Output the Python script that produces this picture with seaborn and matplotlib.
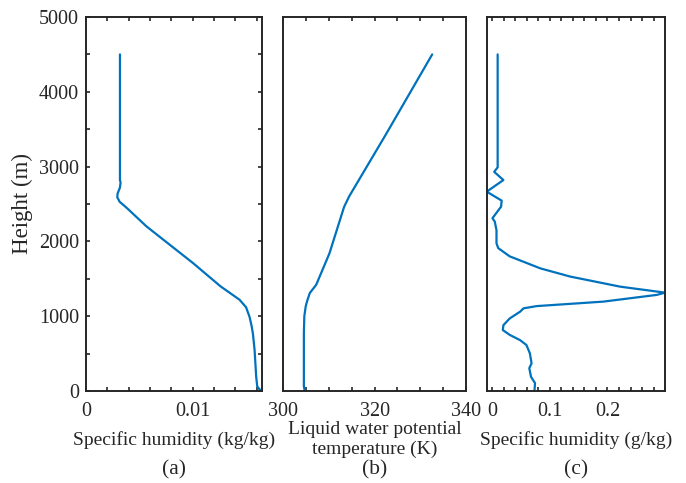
import seaborn as sns
import matplotlib.pyplot as plt
import pandas as pd
import numpy as np
from matplotlib.ticker import MultipleLocator

# profile (a): specific humidity (kg/kg) vs height (m)
a_height = [4500, 2820, 2790, 2720, 2640, 2590, 2530, 2450, 2200, 1710, 1400, 1220,
            1120, 990, 870, 770, 550, 190, 60, 0]
a_q = [0.00318, 0.00318, 0.00324, 0.00318, 0.00296, 0.00293, 0.00315, 0.00380, 0.00567,
       0.01003, 0.01260, 0.01439, 0.01500, 0.01533, 0.01552, 0.01564, 0.0158, 0.01595,
       0.01605, 0.0164]

# profile (b): liquid water potential temperature (K)
b_height = [4500, 3445, 2600, 2460, 1840, 1420, 1310, 1200, 1130, 1000, 770, 60, 0]
b_theta = [332.6, 322.6, 314.4, 313.3, 310.1, 307.2, 305.8, 305.2, 304.9, 304.6, 304.5,
           304.5, 304.7]

# profile (c): specific humidity (g/kg)
c_height = [4500, 3040, 2990, 2930, 2820, 2665, 2545, 2465, 2310, 2265, 2150, 1975, 1910,
            1800, 1640, 1530, 1395, 1315, 1285, 1195, 1135, 1105, 1060, 970, 880, 815,
            750, 680, 615, 505, 370, 305, 190, 105, 0]
c_q = [0.009, 0.009, 0.009, 0.003, 0.019, -0.010, 0.016, 0.015, 0.000, 0.004, 0.007, 0.007,
       0.010, 0.030, 0.083, 0.135, 0.222, 0.300, 0.286, 0.193, 0.077, 0.054, 0.048, 0.030,
       0.019, 0.018, 0.030, 0.048, 0.059, 0.065, 0.068, 0.064, 0.067, 0.074, 0.073]

sns.set_style("ticks")
plt.rcParams['font.family'] = ['Liberation Serif', 'DejaVu Serif']
plt.rcParams['font.size'] = 14

line_color = "#0072BD"
fig = plt.figure(figsize=(6.86, 4.83), dpi=100)

bottom, height = 0.1905, 0.7743
ax_a = fig.add_axes([0.1254, bottom, 0.2566, height])
ax_b = fig.add_axes([0.4130, bottom, 0.2663, height])
ax_c = fig.add_axes([0.7095, bottom, 0.2599, height])

df_a = pd.DataFrame({"q": a_q, "h": a_height})
df_b = pd.DataFrame({"t": b_theta, "h": b_height})
df_c = pd.DataFrame({"q": c_q, "h": c_height})

sns.lineplot(data=df_a, x="q", y="h", sort=False, estimator=None, color=line_color, lw=1.6, ax=ax_a)
sns.lineplot(data=df_b, x="t", y="h", sort=False, estimator=None, color=line_color, lw=1.6, ax=ax_b)
sns.lineplot(data=df_c, x="q", y="h", sort=False, estimator=None, color=line_color, lw=1.6, ax=ax_c)

ax_a.set_xlim(0, 0.0165)
ax_a.set_xticks([0, 0.01])
ax_a.set_xticklabels(["0", "0.01"])
ax_a.xaxis.set_minor_locator(MultipleLocator(0.002))

ax_b.set_xlim(300, 340)
ax_b.set_xticks([300, 320, 340])
ax_b.xaxis.set_minor_locator(MultipleLocator(5))

ax_c.set_xlim(-0.01, 0.3)
ax_c.set_xticks([0, 0.1, 0.2])
ax_c.set_xticklabels(["0", "0.1", "0.2"])
ax_c.xaxis.set_minor_locator(MultipleLocator(0.02))

for ax in (ax_a, ax_b, ax_c):
    ax.set_ylim(0, 5000)
    ax.set_xlabel("")
    ax.set_ylabel("")
    for s in ax.spines.values():
        s.set_visible(True)
        s.set_linewidth(1.4)
        s.set_color("#262626")
    ax.tick_params(which="both", direction="in", top=True, color="#262626", width=1.2,
                   length=3, labelsize=14.5, pad=8)

ax_a.set_yticks(np.arange(0, 5001, 1000))
ax_a.yaxis.set_minor_locator(MultipleLocator(500))
ax_a.tick_params(which="both", right=True, left=True)
ax_a.tick_params(axis="y", pad=5)
ax_a.set_ylabel("Height (m)", fontsize=16.5, labelpad=4)

for ax in (ax_b, ax_c):
    ax.set_yticks([])
    ax.tick_params(which="both", left=False, right=False, labelleft=False)

labels = ["Specific humidity (kg/kg)", "Liquid water potential\ntemperature (K)",
          "Specific humidity (g/kg)"]
letters = ["(a)", "(b)", "(c)"]
for ax, lab, let in zip((ax_a, ax_b, ax_c), labels, letters):
    ax.text(0.5, -0.131, lab, transform=ax.transAxes, ha="center", va="center",
            fontsize=14, linespacing=1.2)
    ax.text(0.5, -0.21, let, transform=ax.transAxes, ha="center", va="center",
            fontsize=15.5)

fig.savefig("out.png", dpi=100)
